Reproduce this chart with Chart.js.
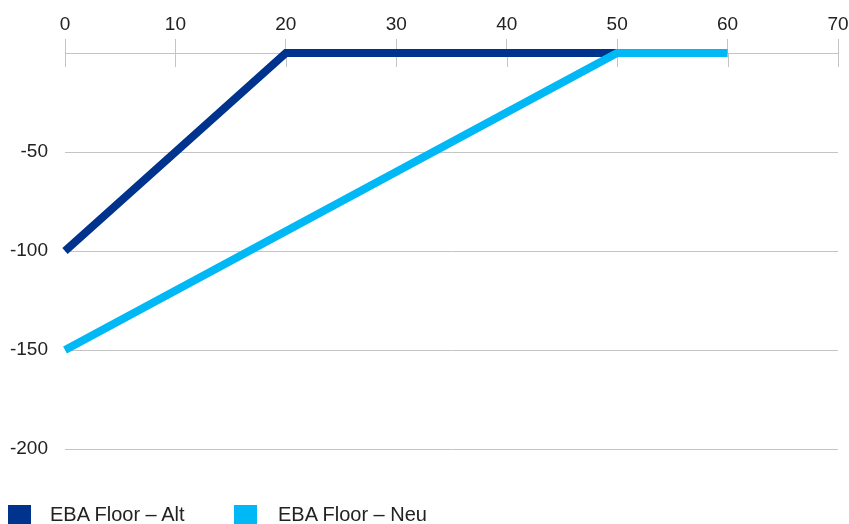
<!DOCTYPE html>
<html>
<head>
<meta charset="utf-8">
<script src="https://cdn.jsdelivr.net/npm/chart.js@4/dist/chart.umd.min.js"></script>
<style>
  html, body { margin: 0; padding: 0; background: #fff; overflow: hidden; }
  #wrap { position: relative; width: 849px; height: 524px; }
  #c { position: absolute; left: 0; top: 0; }
  .lg { position: absolute; font-family: "Liberation Sans", Arial, sans-serif; font-size: 20px; line-height: 20px; color: #222; white-space: nowrap; }
  .bx { position: absolute; width: 23px; height: 23px; }
</style>
</head>
<body>
<div id="wrap">
  <canvas id="c" width="849" height="524"></canvas>
  <div id="legend"></div>
</div>
<script>
// Data
const seriesNames = ["EBA Floor – Alt", "EBA Floor – Neu"];
const seriesColors = ["#00338D", "#00B8F5"];
const altX = [0, 20, 50];
const altY = [-100, 0, 0];
const neuX = [0, 50, 60];
const neuY = [-150, 0, 0];
const xTicks = [0, 10, 20, 30, 40, 50, 60, 70];
const yTicks = [-200, -150, -100, -50, 0];

const GRID = "#c4c4c4";
const FONT = { family: "'Liberation Sans', Arial, sans-serif", size: 19 };

const toPts = (xs, ys) => xs.map((x, i) => ({ x: x, y: ys[i] }));

const lowerTicks = {
  id: "lowerTicks",
  beforeDatasetsDraw(chart) {
    const xs = chart.scales.x;
    const top = chart.chartArea.top;
    const ctx = chart.ctx;
    ctx.save();
    ctx.strokeStyle = GRID;
    ctx.lineWidth = 1;
    xs.ticks.forEach(t => {
      const px = Math.round(xs.getPixelForValue(t.value)) + 0.5;
      ctx.beginPath();
      ctx.moveTo(px, top);
      ctx.lineTo(px, top + 14);
      ctx.stroke();
    });
    ctx.restore();
  }
};

new Chart(document.getElementById("c"), {
  type: "line",
  data: {
    datasets: [
      { label: seriesNames[0], data: toPts(altX, altY), borderColor: seriesColors[0], backgroundColor: seriesColors[0],
        borderWidth: 8, pointRadius: 0, tension: 0, borderJoinStyle: "miter", clip: false, order: 1 },
      { label: seriesNames[1], data: toPts(neuX, neuY), borderColor: seriesColors[1], backgroundColor: seriesColors[1],
        borderWidth: 8, pointRadius: 0, tension: 0, borderJoinStyle: "miter", clip: false, order: 0 }
    ]
  },
  options: {
    responsive: false,
    animation: false,
    events: [],
    layout: { padding: { left: 0, right: 11, top: 0, bottom: 75 } },
    plugins: { legend: { display: false }, tooltip: { enabled: false } },
    scales: {
      x: {
        type: "linear",
        position: "top",
        min: xTicks[0],
        max: xTicks[xTicks.length - 1],
        afterBuildTicks: s => { s.ticks = xTicks.map(v => ({ value: v })); },
        afterFit: s => { s.height = 53; s.paddingLeft = 0; s.paddingRight = 0; },
        ticks: { font: FONT, color: "#222", padding: 3, maxRotation: 0 },
        grid: { drawOnChartArea: false, drawTicks: true, tickLength: 14, color: GRID },
        border: { display: true, color: GRID }
      },
      y: {
        type: "linear",
        min: yTicks[0],
        max: yTicks[yTicks.length - 1],
        afterBuildTicks: s => { s.ticks = yTicks.map(v => ({ value: v })); },
        afterFit: s => { s.width = 65; s.paddingTop = 0; s.paddingBottom = 0; },
        ticks: { font: FONT, color: "#222", padding: 17, callback: v => (v === 0 ? "" : String(v)) },
        grid: { drawTicks: false, color: GRID },
        border: { display: false }
      }
    }
  },
  plugins: [lowerTicks]
});

// Legend (HTML)
const legendPos = [{ box: 8, text: 50 }, { box: 234, text: 278 }];
const lg = document.getElementById("legend");
seriesNames.forEach((n, i) => {
  const b = document.createElement("div");
  b.className = "bx";
  b.style.left = legendPos[i].box + "px";
  b.style.top = "505px";
  b.style.background = seriesColors[i];
  lg.appendChild(b);
  const t = document.createElement("div");
  t.className = "lg";
  t.style.left = legendPos[i].text + "px";
  t.style.top = "504px";
  t.textContent = n;
  lg.appendChild(t);
});
</script>
</body>
</html>
